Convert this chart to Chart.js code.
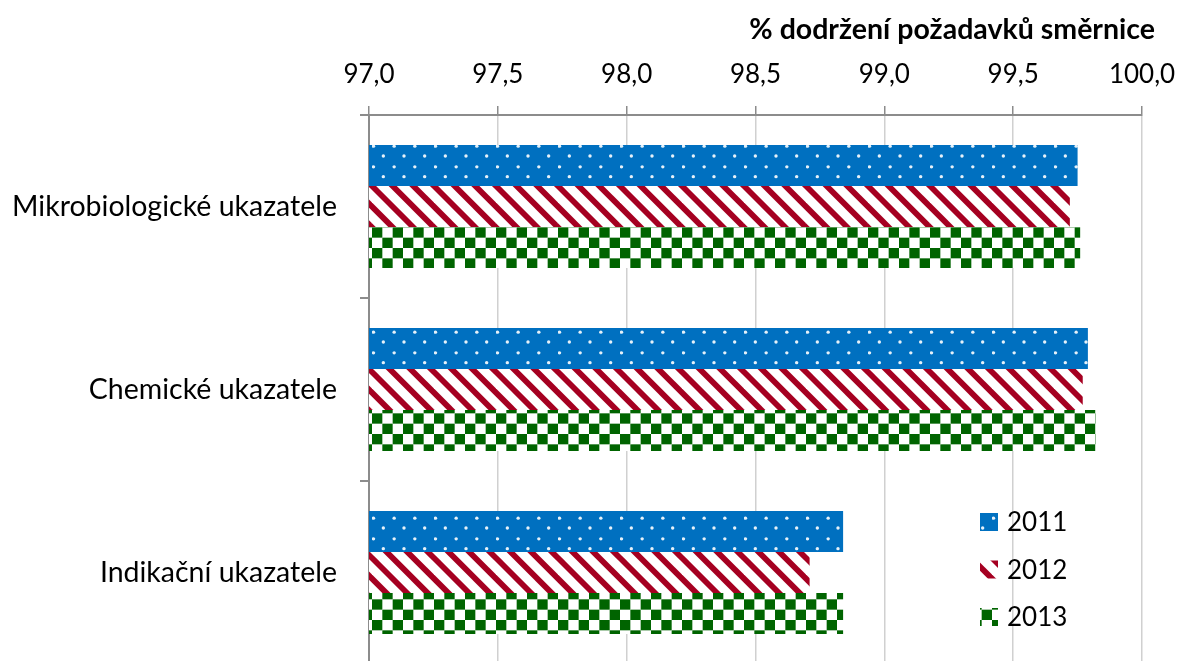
<!DOCTYPE html>
<html lang="cs">
<head>
<meta charset="utf-8">
<title>Dodržení požadavků směrnice</title>
<script src="https://cdn.jsdelivr.net/npm/chart.js@4/dist/chart.umd.min.js"></script>
<style>
  html, body { margin: 0; padding: 0; background: #ffffff; overflow: hidden; }
  #c { display: block; }
</style>
</head>
<body>
<canvas id="c" width="1181" height="664"></canvas>
<script>
// Skupiny ukazatelů a podíl vzorků vyhovujících směrnici (%)
const categories = ['Mikrobiologické ukazatele', 'Chemické ukazatele', 'Indikační ukazatele'];
const years = ['2011', '2012', '2013'];
const values2011 = [99.75, 99.79, 98.84];
const values2012 = [99.72, 99.77, 98.71];
const values2013 = [99.76, 99.82, 98.84];
const axisMin = 97.0;
const axisMax = 100.0;
const axisStep = 0.5;
const axisTitle = '% dodržení požadavků směrnice';

const FONT = 'Lato, "Open Sans", "DejaVu Sans", sans-serif';
const canvas = document.getElementById('c');
const ctx = canvas.getContext('2d');

// Vzorované výplně sloupců (tečky, šikmé pruhy, šachovnice)
function makePattern(paint) {
  const size = 62;
  const tile = document.createElement('canvas');
  tile.width = size; tile.height = size;
  const g = tile.getContext('2d');
  paint(g, size, size / 3);
  return ctx.createPattern(tile, 'repeat');
}

const dotted = makePattern((g, size, cell) => {
  g.fillStyle = '#0070C0';
  g.fillRect(0, 0, size, size);
  g.fillStyle = 'rgba(255,255,255,0.9)';
  for (let i = 0; i < 3; i++) {
    for (let j = 0; j < 3; j++) {
      [[0.5, 0.5], [cell / 2, cell / 2]].forEach(([dx, dy]) => {
        g.beginPath();
        g.arc(i * cell + dx + 1, j * cell + dy + 1, 1.7, 0, Math.PI * 2);
        g.fill();
      });
    }
  }
});

const striped = makePattern((g, size, cell) => {
  g.fillStyle = '#ffffff';
  g.fillRect(0, 0, size, size);
  g.strokeStyle = '#A50021';
  g.lineWidth = 5.8;
  for (let k = -4; k <= 6; k++) {
    g.beginPath();
    g.moveTo(k * cell - 12, -12);
    g.lineTo(k * cell + size + 12, size + 12);
    g.stroke();
  }
});

const checkered = makePattern((g, size) => {
  g.fillStyle = '#ffffff';
  g.fillRect(0, 0, size, size);
  g.fillStyle = '#006400';
  const s = size / 6;
  for (let i = 0; i < 6; i++) {
    for (let j = 0; j < 6; j++) {
      if ((i + j) % 2 === 0) g.fillRect(i * s, j * s, s, s);
    }
  }
});

const fills = [dotted, striped, checkered];
const seriesValues = [values2011, values2012, values2013];

// Legenda uvnitř plochy grafu, vpravo dole
const innerLegend = {
  id: 'innerLegend',
  afterDatasetsDraw(chart) {
    const { ctx: c, chartArea } = chart;
    const box = 18;
    const x = chartArea.right - 162;
    const rowGap = 47.5;
    const firstY = chartArea.bottom - 142;
    c.save();
    c.font = '26px ' + FONT;
    c.textBaseline = 'middle';
    c.textAlign = 'left';
    chart.data.datasets.forEach((ds, i) => {
      const cy = firstY + i * rowGap;
      c.fillStyle = ds.backgroundColor;
      c.fillRect(x, cy - box / 2, box, box);
      c.fillStyle = '#000000';
      c.fillText(ds.label, x + box + 9, cy + 1);
    });
    c.restore();
  }
};

const formatTick = v => Number(v).toFixed(1).replace('.', ',');

new Chart(ctx, {
  type: 'bar',
  data: {
    labels: categories,
    datasets: years.map((y, i) => ({
      label: y,
      data: seriesValues[i],
      backgroundColor: fills[i],
      borderWidth: 0,
      categoryPercentage: 0.672,
      barPercentage: 1.0
    }))
  },
  options: {
    indexAxis: 'y',
    responsive: false,
    animation: false,
    devicePixelRatio: 1,
    layout: { padding: { left: 0, right: 26, top: 0, bottom: 0 } },
    plugins: {
      legend: { display: false },
      tooltip: { enabled: false },
      title: {
        display: true,
        text: axisTitle,
        align: 'end',
        color: '#000000',
        font: { family: FONT, size: 28.5, weight: 'bold' },
        padding: { top: 13, bottom: 0 }
      }
    },
    scales: {
      x: {
        type: 'linear',
        position: 'top',
        min: axisMin,
        max: axisMax,
        ticks: {
          stepSize: axisStep,
          color: '#000000',
          font: { family: FONT, size: 26 },
          padding: 16,
          maxRotation: 0,
          callback: formatTick
        },
        grid: {
          color: '#d0d0d0',
          lineWidth: 1.5,
          tickColor: '#8c8c8c',
          tickLength: 9
        },
        border: { color: '#8c8c8c', width: 2 },
        afterFit(scale) {
          scale.height = 67.8;
          scale.paddingRight = 39;
        }
      },
      y: {
        type: 'category',
        position: 'left',
        ticks: {
          color: '#000000',
          font: { family: FONT, size: 28.5 },
          padding: 23
        },
        grid: {
          offset: true,
          drawOnChartArea: false,
          tickColor: '#8c8c8c',
          tickLength: 9,
          lineWidth: 2
        },
        border: { color: '#8c8c8c', width: 2 },
        afterFit(scale) {
          scale.width = 369;
          scale.paddingTop = 0;
          scale.paddingBottom = 0;
        }
      }
    }
  },
  plugins: [innerLegend]
});
</script>
</body>
</html>
